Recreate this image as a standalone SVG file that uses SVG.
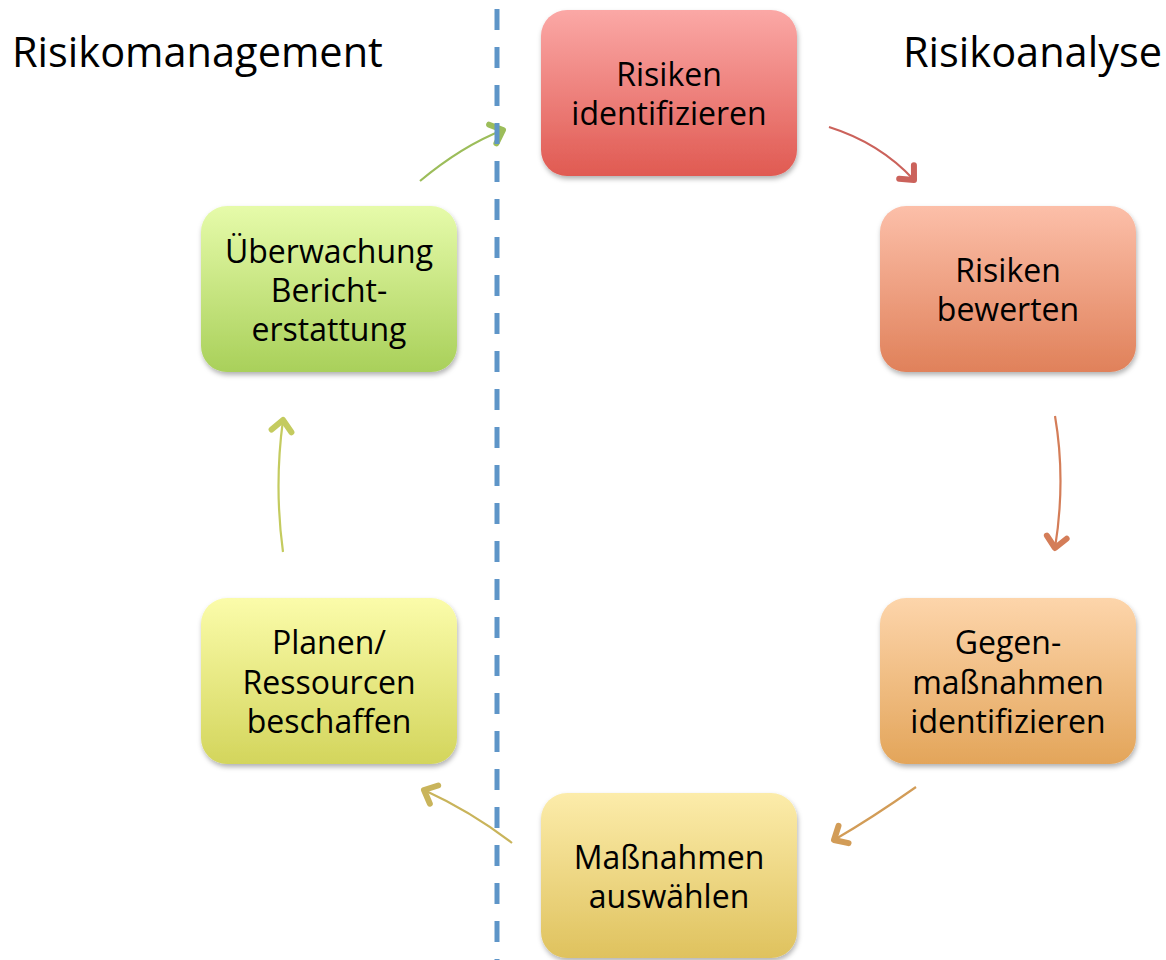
<svg xmlns="http://www.w3.org/2000/svg" width="1166" height="960" viewBox="0 0 1166 960">
<style>
.t{font-family:"Open Sans","Noto Sans","Liberation Sans",sans-serif;font-size:32px;fill:#000;text-anchor:middle}
.h{font-family:"Open Sans","Noto Sans","Liberation Sans",sans-serif;font-size:41.5px;fill:#000}
.c{fill:none;stroke-width:2.2}
.box{filter:url(#sh)}
</style>
<defs>
<filter id="sh" x="-10%" y="-10%" width="125%" height="130%"><feDropShadow dx="1" dy="3" stdDeviation="2.5" flood-color="#000" flood-opacity="0.3"/></filter>
<linearGradient id="g1" x1="0" y1="0" x2="0" y2="1"><stop offset="0" stop-color="#fba8a6"/><stop offset="1" stop-color="#e05a52"/></linearGradient>
<linearGradient id="g2" x1="0" y1="0" x2="0" y2="1"><stop offset="0" stop-color="#fcbfa9"/><stop offset="1" stop-color="#e0815a"/></linearGradient>
<linearGradient id="g3" x1="0" y1="0" x2="0" y2="1"><stop offset="0" stop-color="#fdd5ab"/><stop offset="1" stop-color="#e3a55a"/></linearGradient>
<linearGradient id="g4" x1="0" y1="0" x2="0" y2="1"><stop offset="0" stop-color="#fcecaa"/><stop offset="1" stop-color="#dfc25e"/></linearGradient>
<linearGradient id="g5" x1="0" y1="0" x2="0" y2="1"><stop offset="0" stop-color="#fbfcaa"/><stop offset="1" stop-color="#d3d55c"/></linearGradient>
<linearGradient id="g6" x1="0" y1="0" x2="0" y2="1"><stop offset="0" stop-color="#e6fbaa"/><stop offset="1" stop-color="#a9d05a"/></linearGradient>
<marker id="m1" markerUnits="userSpaceOnUse" viewBox="-20 -15 25 30" markerWidth="25" markerHeight="30" refX="0" refY="0" orient="auto" overflow="visible"><path d="M-11,-10 L0,0 L-11,10" fill="none" stroke="#9cbd5a" stroke-width="6" stroke-linecap="round" stroke-linejoin="round"/></marker>
<marker id="m2" markerUnits="userSpaceOnUse" viewBox="-20 -15 25 30" markerWidth="25" markerHeight="30" refX="0" refY="0" orient="auto" overflow="visible"><path d="M-11,-10 L0,0 L-11,10" fill="none" stroke="#cb625b" stroke-width="6" stroke-linecap="round" stroke-linejoin="round"/></marker>
<marker id="m3" markerUnits="userSpaceOnUse" viewBox="-20 -15 25 30" markerWidth="25" markerHeight="30" refX="0" refY="0" orient="auto" overflow="visible"><path d="M-11,-10 L0,0 L-11,10" fill="none" stroke="#d47d58" stroke-width="6" stroke-linecap="round" stroke-linejoin="round"/></marker>
<marker id="m4" markerUnits="userSpaceOnUse" viewBox="-20 -15 25 30" markerWidth="25" markerHeight="30" refX="0" refY="0" orient="auto" overflow="visible"><path d="M-11,-10 L0,0 L-11,10" fill="none" stroke="#d29c57" stroke-width="6" stroke-linecap="round" stroke-linejoin="round"/></marker>
<marker id="m5" markerUnits="userSpaceOnUse" viewBox="-20 -15 25 30" markerWidth="25" markerHeight="30" refX="0" refY="0" orient="auto" overflow="visible"><path d="M-11,-10 L0,0 L-11,10" fill="none" stroke="#c9b45b" stroke-width="6" stroke-linecap="round" stroke-linejoin="round"/></marker>
<marker id="m6" markerUnits="userSpaceOnUse" viewBox="-20 -15 25 30" markerWidth="25" markerHeight="30" refX="0" refY="0" orient="auto" overflow="visible"><path d="M-11,-10 L0,0 L-11,10" fill="none" stroke="#c4cb5f" stroke-width="6" stroke-linecap="round" stroke-linejoin="round"/></marker>
</defs>
<rect width="1166" height="960" fill="#fff"/>
<text class="h" x="12" y="67">Risikomanagement</text>
<text class="h" x="903" y="67">Risikoanalyse</text>
<g id="connectors">
<path class="c" d="M420,181 Q462,146 503,130" stroke="#9cbd5a" marker-end="url(#m1)"/>
<path class="c" d="M829,127 Q880,143 914,180" stroke="#cb625b" marker-end="url(#m2)"/>
<path class="c" d="M1055,416 Q1066,480 1055,548" stroke="#d47d58" marker-end="url(#m3)"/>
<path class="c" d="M916,787 Q872,818 834,840" stroke="#d29c57" marker-end="url(#m4)"/>
<path class="c" d="M512,843 Q472,812 424,790" stroke="#c9b45b" marker-end="url(#m5)"/>
<path class="c" d="M283,552 Q274,486 283,420" stroke="#c4cb5f" marker-end="url(#m6)"/>
</g>
<line id="divider" x1="497" y1="9" x2="497" y2="960" stroke="#5e95c8" stroke-width="5" stroke-dasharray="21 17"/>
<g id="n1"><rect class="box" x="541" y="10" width="256" height="166" rx="26" fill="url(#g1)"/><text class="t" x="669" y="86">Risiken</text><text class="t" x="669" y="125">identifizieren</text></g>
<g id="n2"><rect class="box" x="880" y="206" width="256" height="166" rx="26" fill="url(#g2)"/><text class="t" x="1008" y="282">Risiken</text><text class="t" x="1008" y="321">bewerten</text></g>
<g id="n3"><rect class="box" x="880" y="598" width="256" height="166" rx="26" fill="url(#g3)"/><text class="t" x="1008" y="654">Gegen-</text><text class="t" x="1008" y="694">maßnahmen</text><text class="t" x="1008" y="733">identifizieren</text></g>
<g id="n4"><rect class="box" x="541" y="793" width="256" height="165" rx="26" fill="url(#g4)"/><text class="t" x="669" y="869">Maßnahmen</text><text class="t" x="669" y="908">auswählen</text></g>
<g id="n5"><rect class="box" x="201" y="598" width="256" height="166" rx="26" fill="url(#g5)"/><text class="t" x="329" y="654">Planen/</text><text class="t" x="329" y="694">Ressourcen</text><text class="t" x="329" y="733">beschaffen</text></g>
<g id="n6"><rect class="box" x="201" y="206" width="256" height="166" rx="26" fill="url(#g6)"/><text class="t" x="329" y="263">Überwachung</text><text class="t" x="329" y="302">Bericht-</text><text class="t" x="329" y="341">erstattung</text></g>
</svg>
